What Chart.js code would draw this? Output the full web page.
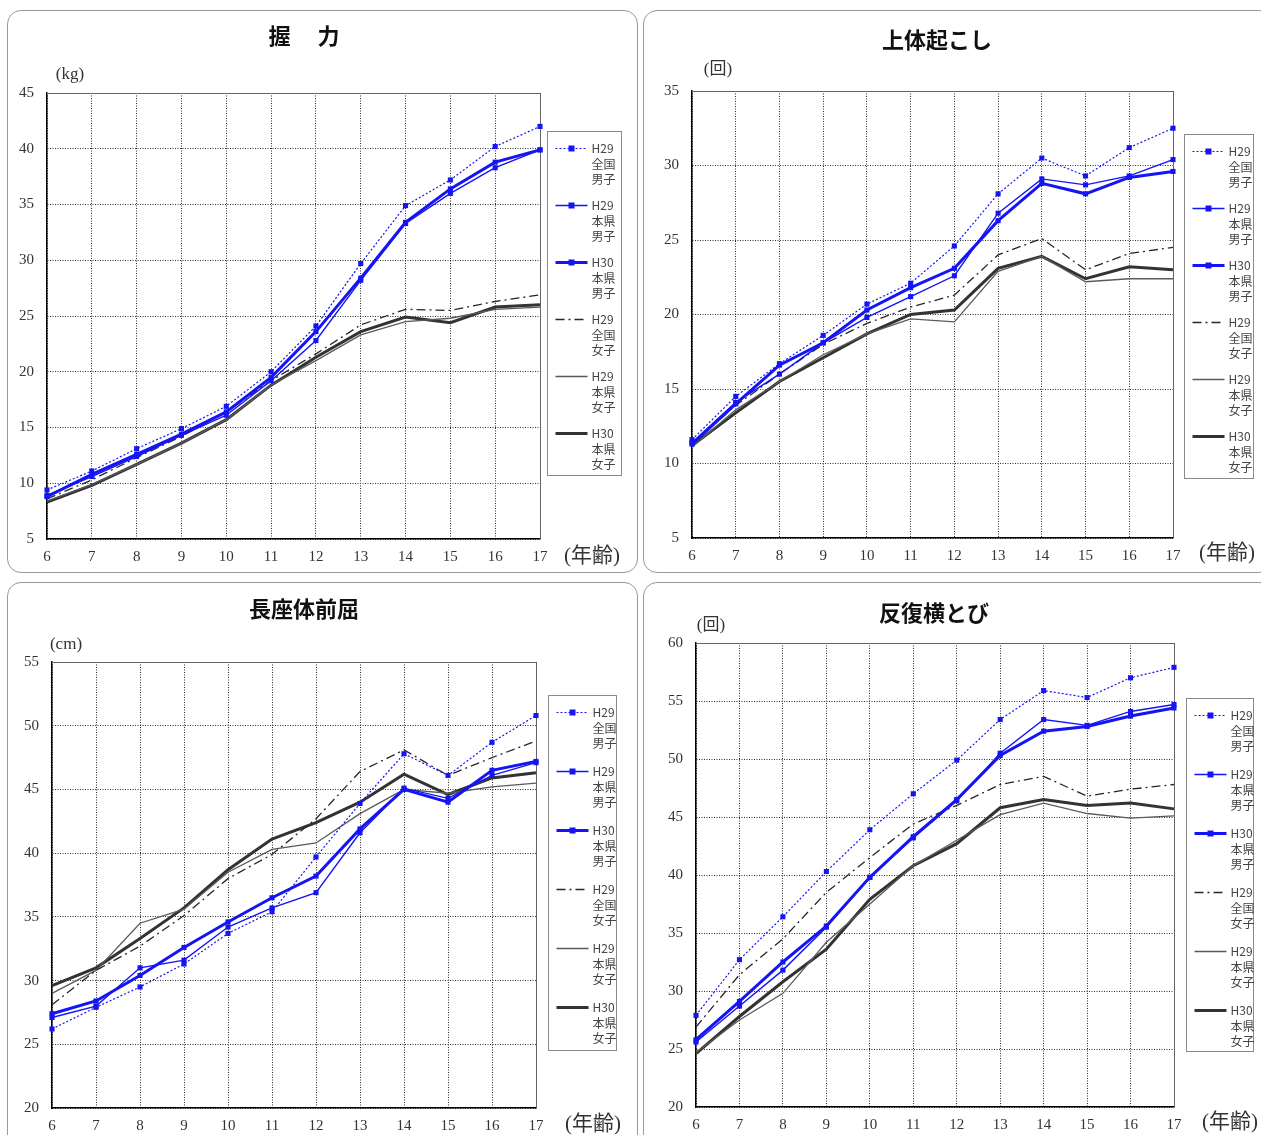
<!DOCTYPE html>
<html lang="ja">
<head>
<meta charset="utf-8">
<title>体力・運動能力 年齢別推移</title>
<script src="https://cdn.jsdelivr.net/npm/chart.js@4.4.1/dist/chart.umd.min.js"></script>
<style>
  html, body { margin: 0; padding: 0; background: #fff; }
  body { width: 1261px; height: 1135px; position: relative; overflow: hidden; }
  .marco { position: absolute; border: 1px solid #9a9a9a; border-radius: 14px; box-sizing: border-box; }
  canvas { position: absolute; }
</style>
</head>
<body>
<script>
// 年齢（横軸）
const EDADES = ['6', '7', '8', '9', '10', '11', '12', '13', '14', '15', '16', '17'];

// 凡例
const SERIES = [
    ['H29', '全国', '男子'],
    ['H29', '本県', '男子'],
    ['H30', '本県', '男子'],
    ['H29', '全国', '女子'],
    ['H29', '本県', '女子'],
    ['H30', '本県', '女子']
];

// 握力 (kg)
const akuNatBoys29  = [9.4, 11.1, 13.1, 14.9, 16.9, 20.0, 24.1, 29.7, 34.9, 37.2, 40.2, 42.0];
const akuPrefBoys29 = [8.9, 10.6, 12.4, 14.3, 16.1, 19.2, 22.8, 28.2, 33.3, 36.0, 38.3, 39.9];
const akuPrefBoys30 = [8.8, 10.8, 12.6, 14.4, 16.4, 19.5, 23.6, 28.4, 33.4, 36.4, 38.8, 39.9];
const akuNatGirls29 = [8.6, 10.3, 12.3, 14.2, 16.4, 19.2, 21.6, 24.2, 25.6, 25.5, 26.3, 26.9];
const akuPrefGirls29 = [8.4, 9.9, 11.7, 13.6, 15.7, 18.8, 21.0, 23.3, 24.5, 24.8, 25.6, 25.8];
const akuPrefGirls30 = [8.3, 9.8, 11.7, 13.6, 15.7, 18.8, 21.3, 23.6, 24.9, 24.4, 25.8, 26.0];

// 上体起こし (回)
const jotNatBoys29  = [11.6, 14.5, 16.7, 18.6, 20.7, 22.1, 24.6, 28.1, 30.5, 29.3, 31.2, 32.5];
const jotPrefBoys29 = [11.4, 14.1, 16.0, 18.1, 19.8, 21.2, 22.6, 26.8, 29.1, 28.7, 29.3, 30.4];
const jotPrefBoys30 = [11.3, 14.0, 16.6, 18.1, 20.3, 21.8, 23.1, 26.3, 28.8, 28.1, 29.2, 29.6];
const jotNatGirls29 = [11.3, 13.9, 16.0, 18.0, 19.4, 20.5, 21.3, 24.0, 25.1, 23.0, 24.1, 24.5];
const jotPrefGirls29 = [11.1, 13.6, 15.5, 17.3, 18.7, 19.7, 19.5, 22.9, 23.9, 22.2, 22.4, 22.4];
const jotPrefGirls30 = [11.2, 13.4, 15.5, 17.1, 18.7, 20.0, 20.3, 23.1, 23.9, 22.4, 23.2, 23.0];

// 長座体前屈 (cm)
const choNatBoys29  = [26.2, 27.9, 29.5, 31.3, 33.7, 35.4, 39.7, 43.9, 47.8, 46.1, 48.7, 50.8];
const choPrefBoys29 = [27.1, 28.0, 31.0, 31.6, 34.2, 35.7, 36.9, 41.6, 45.1, 44.3, 46.1, 47.1];
const choPrefBoys30 = [27.4, 28.4, 30.4, 32.6, 34.6, 36.5, 38.2, 41.9, 45.0, 44.0, 46.5, 47.2];
const choNatGirls29 = [28.1, 30.8, 32.7, 35.1, 38.0, 39.9, 42.7, 46.4, 48.1, 46.1, 47.5, 48.8];
const choPrefGirls29 = [29.0, 30.8, 34.5, 35.6, 38.5, 40.3, 40.8, 43.1, 45.0, 44.7, 45.2, 45.5];
const choPrefGirls30 = [29.6, 31.0, 33.3, 35.7, 38.7, 41.1, 42.4, 44.0, 46.2, 44.6, 45.9, 46.3];

// 反復横とび (回)
const hanNatBoys29  = [27.9, 32.7, 36.4, 40.3, 43.9, 47.0, 49.9, 53.4, 55.9, 55.3, 57.0, 57.9];
const hanPrefBoys29 = [25.6, 28.7, 31.8, 35.5, 39.8, 43.2, 46.4, 50.5, 53.4, 52.9, 54.1, 54.7];
const hanPrefBoys30 = [25.8, 29.1, 32.5, 35.6, 39.8, 43.3, 46.5, 50.3, 52.4, 52.8, 53.7, 54.4];
const hanNatGirls29 = [26.9, 31.4, 34.5, 38.5, 41.5, 44.4, 46.0, 47.8, 48.5, 46.8, 47.4, 47.8];
const hanPrefGirls29 = [24.7, 27.5, 29.8, 34.2, 37.5, 40.8, 43.0, 45.2, 46.2, 45.3, 44.9, 45.1];
const hanPrefGirls30 = [24.6, 27.8, 30.8, 33.6, 37.9, 40.8, 42.7, 45.8, 46.5, 46.0, 46.2, 45.7];

const AZUL = '#1414f5';
const ESTILOS = [
    { borderColor: AZUL, borderWidth: 1.2, borderDash: [2, 2], pointRadius: 3.6 },
    { borderColor: AZUL, borderWidth: 1.4, borderDash: [], pointRadius: 3.6 },
    { borderColor: AZUL, borderWidth: 3, borderDash: [], pointRadius: 3.6 },
    { borderColor: '#262626', borderWidth: 1.3, borderDash: [9, 4, 2, 4], pointRadius: 0 },
    { borderColor: '#5a5a5a', borderWidth: 1.3, borderDash: [], pointRadius: 0 },
    { borderColor: '#333', borderWidth: 3, borderDash: [], pointRadius: 0 }
];

const FUENTE_NUM = '"Liberation Serif", "Noto Sans CJK JP", serif';

// 各グラフの枠と配置
const PANELES = [
    {
        titulo: '握\u3000 力', unidad: '(kg)', min: 5, max: 45,
        series: [akuNatBoys29, akuPrefBoys29, akuPrefBoys30, akuNatGirls29, akuPrefGirls29, akuPrefGirls30],
        caja: { x: 7, y: 10, w: 631, h: 563 },
        padding: { left: 4, right: 98, top: 83, bottom: 4 },
        textos: { tx: 297, ty: 26, ux: 63, uy: 65, ex: 557, ey: 546 },
        leyenda: { dx: 7, top: 121, w: 74, h: 344, paso: 57 }
    },
    {
        titulo: '上体起こし', unidad: '(回)', min: 5, max: 35,
        series: [jotNatBoys29, jotPrefBoys29, jotPrefBoys30, jotNatGirls29, jotPrefGirls29, jotPrefGirls30],
        caja: { x: 643, y: 10, w: 630, h: 563 },
        padding: { left: 13, right: 100, top: 81, bottom: 5 },
        textos: { tx: 294, ty: 30, ux: 75, uy: 60, ex: 556, ey: 543 },
        leyenda: { dx: 11, top: 124, w: 69, h: 344, paso: 57 }
    },
    {
        titulo: '長座体前屈', unidad: '(cm)', min: 20, max: 55,
        series: [choNatBoys29, choPrefBoys29, choPrefBoys30, choNatGirls29, choPrefGirls29, choPrefGirls30],
        caja: { x: 7, y: 582, w: 631, h: 570 },
        padding: { left: 9, right: 102, top: 80, bottom: 14 },
        textos: { tx: 297, ty: 27, ux: 59, uy: 63, ex: 558, ey: 542 },
        leyenda: { dx: 12, top: 113, w: 68, h: 355, paso: 59 }
    },
    {
        titulo: '反復横とび', unidad: '(回)', min: 20, max: 60,
        series: [hanNatBoys29, hanPrefBoys29, hanPrefBoys30, hanNatGirls29, hanPrefGirls29, hanPrefGirls30],
        caja: { x: 643, y: 582, w: 630, h: 570 },
        padding: { left: 17, right: 99, top: 61, bottom: 15 },
        textos: { tx: 291, ty: 31, ux: 68, uy: 44, ex: 559, ey: 540 },
        leyenda: { dx: 12, top: 116, w: 67, h: 353, paso: 59 }
    }
];

// 枠の上・右の線
const marcoPlugin = {
    id: 'marcoArea',
    beforeDatasetsDraw(chart) {
        const { ctx, chartArea: a } = chart;
        ctx.save();
        ctx.strokeStyle = '#666';
        ctx.lineWidth = 1;
        ctx.beginPath();
        ctx.moveTo(a.left, a.top + 0.5);
        ctx.lineTo(a.right + 0.5, a.top + 0.5);
        ctx.lineTo(a.right + 0.5, a.bottom);
        ctx.stroke();
        ctx.restore();
    }
};

// タイトル・単位・(年齢)
const textosPlugin = {
    id: 'textosPanel',
    afterDraw(chart, args, opts) {
        const ctx = chart.ctx;
        ctx.save();
        ctx.fillStyle = '#111';
        ctx.textBaseline = 'middle';
        ctx.textAlign = 'center';
        ctx.font = '700 22px "Noto Sans CJK JP", sans-serif';
        ctx.fillText(opts.titulo, opts.tx, opts.ty);
        ctx.fillStyle = '#333';
        ctx.font = '17px ' + FUENTE_NUM;
        ctx.fillText(opts.unidad, opts.ux, opts.uy);
        ctx.textAlign = 'left';
        ctx.font = '21px ' + FUENTE_NUM;
        ctx.fillText('(年齢)', opts.ex, opts.ey);
        ctx.restore();
    }
};

// 右側の凡例
const leyendaPlugin = {
    id: 'leyendaLateral',
    afterDraw(chart, args, opts) {
        const ctx = chart.ctx;
        const x0 = Math.round(chart.chartArea.right + opts.dx) + 0.5;
        const y0 = opts.top + 0.5;
        ctx.save();
        ctx.strokeStyle = '#8a8a8a';
        ctx.lineWidth = 1;
        ctx.strokeRect(x0, y0, opts.w, opts.h);
        chart.data.datasets.forEach((ds, i) => {
            const ly = y0 + 17 + i * opts.paso;
            ctx.beginPath();
            ctx.setLineDash(ds.borderDash || []);
            ctx.strokeStyle = ds.borderColor;
            ctx.lineWidth = ds.borderWidth;
            ctx.moveTo(x0 + 8, ly);
            ctx.lineTo(x0 + 40, ly);
            ctx.stroke();
            ctx.setLineDash([]);
            if (ds.pointRadius > 0) {
                ctx.fillStyle = ds.borderColor;
                ctx.fillRect(x0 + 21, ly - 3, 6, 6);
            }
            ctx.fillStyle = '#444';
            ctx.font = '12px "Noto Sans CJK JP", sans-serif';
            ctx.textAlign = 'left';
            ctx.textBaseline = 'middle';
            ds.lineas.forEach((t, k) => ctx.fillText(t, x0 + 44, ly + k * 15.5));
        });
        ctx.restore();
    }
};

function crearPanel(p, idx) {
    const marco = document.createElement('div');
    marco.className = 'marco';
    marco.style.left = p.caja.x + 'px';
    marco.style.top = p.caja.y + 'px';
    marco.style.width = p.caja.w + 'px';
    marco.style.height = p.caja.h + 'px';
    document.body.appendChild(marco);

    const canvas = document.createElement('canvas');
    canvas.id = 'grafico' + idx;
    canvas.width = p.caja.w;
    canvas.height = p.caja.h;
    canvas.style.left = p.caja.x + 'px';
    canvas.style.top = p.caja.y + 'px';
    canvas.style.width = p.caja.w + 'px';
    canvas.style.height = p.caja.h + 'px';
    document.body.appendChild(canvas);

    const datasets = p.series.map((valores, i) => ({
        label: SERIES[i].join(''),
        lineas: SERIES[i],
        data: valores,
        borderColor: ESTILOS[i].borderColor,
        backgroundColor: ESTILOS[i].borderColor,
        borderWidth: ESTILOS[i].borderWidth,
        borderDash: ESTILOS[i].borderDash,
        pointStyle: 'rect',
        pointRadius: ESTILOS[i].pointRadius,
        pointBorderWidth: 0,
        pointBackgroundColor: ESTILOS[i].borderColor,
        tension: 0,
        fill: false
    }));

    new Chart(canvas.getContext('2d'), {
        type: 'line',
        data: { labels: EDADES, datasets: datasets },
        options: {
            responsive: false,
            animation: false,
            devicePixelRatio: 1,
            layout: { padding: p.padding },
            scales: {
                x: {
                    type: 'category',
                    offset: false,
                    afterFit(scale) { scale.height = 30; },
                    grid: { color: '#2e2e2e', lineWidth: 1, drawTicks: false },
                    border: { display: true, color: '#000', width: 1.5, dash: [1, 1.5] },
                    ticks: { color: '#333', padding: 9, maxRotation: 0, autoSkip: false, font: { family: FUENTE_NUM, size: 15 } }
                },
                y: {
                    min: p.min,
                    max: p.max,
                    afterFit(scale) { scale.width = 36; },
                    grid: { color: '#2e2e2e', lineWidth: 1, drawTicks: false },
                    border: { display: true, color: '#000', width: 1.5, dash: [1, 1.5] },
                    ticks: { stepSize: 5, color: '#333', padding: 13, font: { family: FUENTE_NUM, size: 15 } }
                }
            },
            plugins: {
                legend: { display: false },
                tooltip: { enabled: false },
                textosPanel: Object.assign({ titulo: p.titulo, unidad: p.unidad }, p.textos),
                leyendaLateral: p.leyenda
            }
        },
        plugins: [marcoPlugin, textosPlugin, leyendaPlugin]
    });
}

PANELES.forEach((p, i) => crearPanel(p, i));
</script>
</body>
</html>
